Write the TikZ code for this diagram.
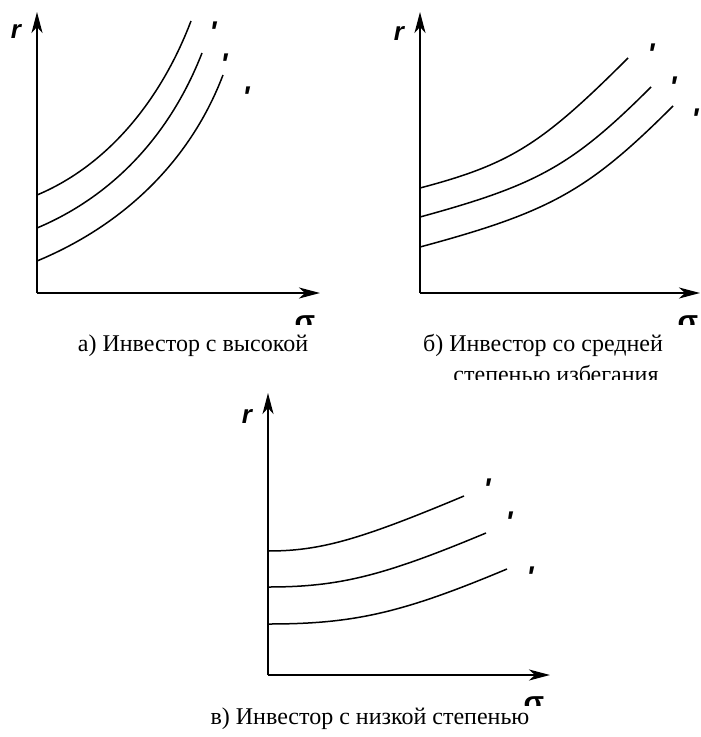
\documentclass[tikz,border=0pt]{standalone}
\usepackage{fontspec}
\setmainfont{Liberation Serif}
\newfontfamily\labfont{Liberation Sans}
\usetikzlibrary{arrows.meta}
\newcommand{\sigtop}{\smash{\raisebox{-11pt}{σ}}}
\tikzset{
  axis/.style={-{Stealth[length=21pt,width=11pt,inset=6pt]}, line width=2.2pt},
  icurve/.style={line width=1.5pt},
  axlab/.style={font=\labfont\bfseries\itshape\fontsize{26}{30}\selectfont, inner sep=0pt},
  crvlab/.style={font=\labfont\bfseries\itshape\fontsize{30}{34}\selectfont, inner sep=0pt, anchor=north},
  sig/.style={font=\labfont\bfseries\fontsize{30}{34}\selectfont, inner sep=0pt, anchor=base},
  capt/.style={font=\fontsize{24}{28}\selectfont, inner sep=0pt, anchor=base}
}
\begin{document}
\begin{tikzpicture}[x=1pt,y=-1pt]
\useasboundingbox (0,0) rectangle (701,737);

% a) high aversion
\coordinate (oA) at (37,293);
\coordinate (yA) at (37,12);
\coordinate (xA) at (320,293);
\draw[axis] (oA) -- (yA);
\draw[axis] (oA) -- (xA);
\node[axlab, anchor=base] (rA) at (16,38) {r};
\draw[icurve] (37,195) .. controls (104,167) and (159,105) .. (191,21);
\draw[icurve] (37,228) .. controls (113,196) and (170,135) .. (202,53);
\draw[icurve] (37,261) .. controls (126,224) and (191,159) .. (223,75);
\node[crvlab] (uA1) at (213,22) {'};
\node[crvlab] (uA2) at (224,54) {'};
\node[crvlab] (uA3) at (246,87) {'};
\begin{scope}
  \clip (285,310) rectangle (330,324);
  \node[sig] (sA) at (305,320) {\sigtop};
\end{scope}
\node[capt] (cA) at (193,351) {а) Инвестор с высокой};

% b) medium aversion
\coordinate (oB) at (420,293);
\coordinate (yB) at (420,12);
\coordinate (xB) at (700,293);
\draw[axis] (oB) -- (yB);
\draw[axis] (oB) -- (xB);
\node[axlab, anchor=base] (rB) at (399,40) {r};
\draw[icurve] (420,188) .. controls (511,164) and (542,144) .. (628,58);
\draw[icurve] (420,217) .. controls (537,185) and (572,166) .. (651,87);
\draw[icurve] (420,247) .. controls (550,212) and (588,191) .. (673,106);
\node[crvlab] (uB1) at (651,44) {'};
\node[crvlab] (uB2) at (673,77) {'};
\node[crvlab] (uB3) at (695,109) {'};
\begin{scope}
  \clip (665,310) rectangle (701,324);
  \node[sig] (sB) at (688,320) {\sigtop};
\end{scope}
\node[capt] (cB) at (543,351) {б) Инвестор со средней};
\begin{scope}
  \clip (440,360) rectangle (680,379);
  \node[capt] (cB2) at (556,382) {степенью избегания};
\end{scope}

% c) low aversion
\coordinate (oC) at (268,675);
\coordinate (yC) at (268,393);
\coordinate (xC) at (550,675);
\draw[axis] (oC) -- (yC);
\draw[axis] (oC) -- (xC);
\node[axlab, anchor=base] (rC) at (247,423) {r};
\draw[icurve] (268,551) .. controls (320,551) and (359,540) .. (464,496);
\draw[icurve] (268,587) .. controls (339,587) and (383,576) .. (486,533);
\draw[icurve] (268,624) .. controls (354,624) and (402,613) .. (507,569);
\node[crvlab] (uC1) at (487,479) {'};
\node[crvlab] (uC2) at (509,512) {'};
\node[crvlab] (uC3) at (530,567) {'};
\begin{scope}
  \clip (515,690) rectangle (555,705);
  \node[sig] (sC) at (534,701) {\sigtop};
\end{scope}
\node[capt] (cC) at (370,724) {в) Инвестор с низкой степенью};
\end{tikzpicture}
\end{document}
